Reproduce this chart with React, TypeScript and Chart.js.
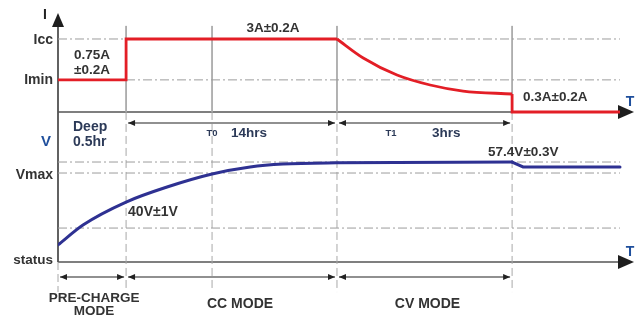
import React, { useEffect, useRef } from "react";
import { Chart, registerables } from "chart.js";

Chart.register(...registerables);

// ---------- Schematic time axis (0 = origin, 100 = arrow tip) ----------
const phaseEdges = [0, 11.8, 48.35, 78.7]; // start, CC start, CV start, CV end
const t0Mark = 26.7;
const traceEnd = 97.4;

// ---------- Charge current (schematic levels) ----------
const stepTime = [0, 11.8, 11.8, 48.35];
const stepCurrent = [1.32, 1.32, 3, 3];
const decayTime = [48.35, 52.9, 58.75, 64.5, 70.2, 78.7];
const decayCurrent = [3, 2.22, 1.52, 1.11, 0.86, 0.74];
const termTime = [78.7, 78.7, 97.4];
const termCurrent = [0.74, 0, 0];
const currentRefLevels = [3, 1.32]; // Icc, Imin

// ---------- Battery voltage (schematic levels) ----------
const chargeTime = [0, 4.33, 11.8, 18.9, 26.7, 33.3, 39, 48.35, 78.7];
const chargeVoltage = [11, 23.9, 38.7, 48.4, 56.8, 61.3, 63.2, 64, 64.5];
const floatTime = [78.7, 80.6, 97.4];
const floatVoltage = [64.5, 61.3, 61.3];
const voltageRefLevels = [64.5, 57.4, 21.9];

// vertical phase guides (in voltage-axis units)
const guideTop = 152.3;
const guideSplit = 96.8;
const guideBottom = -19.4;

const INK = "#333333";
const NAVY = "#2c3a58";
const AXIS_BLUE = "#1f4f9c";
const FONT = '"Liberation Sans", Arial, Helvetica, sans-serif';

const pts = (xs: number[], ys: number[]) => xs.map((x, i) => ({ x, y: ys[i] }));

function head(ctx: CanvasRenderingContext2D, tx: number, ty: number, dx: number, dy: number, len: number, half: number) {
  const bx = tx - dx * len;
  const by = ty - dy * len;
  ctx.beginPath();
  ctx.moveTo(tx, ty);
  ctx.lineTo(bx - dy * half, by + dx * half);
  ctx.lineTo(bx + dy * half, by - dx * half);
  ctx.closePath();
  ctx.fill();
}

const schematicPlugin = {
  id: "schematic",
  beforeDatasetsDraw(chart: any) {
    const { ctx, chartArea, scales } = chart;
    const xs = scales.x, yI = scales.yI, yV = scales.yV;
    const left = xs.getPixelForValue(0);
    const tip = xs.getPixelForValue(100) - 1;
    const iAxis = yI.getPixelForValue(0);
    const vAxis = yV.getPixelForValue(0);
    ctx.save();
    ctx.fillStyle = "#1e1e1e";
    // vertical axis
    ctx.strokeStyle = "#3a3a3a";
    ctx.lineWidth = 1.6;
    ctx.beginPath();
    ctx.moveTo(left, chartArea.top + 10);
    ctx.lineTo(left, vAxis);
    ctx.stroke();
    head(ctx, left, chartArea.top - 1, 0, -1, 14, 6);
    // horizontal axes
    ctx.strokeStyle = "#555555";
    ctx.lineWidth = 1.5;
    [iAxis, vAxis].forEach((y: number) => {
      ctx.beginPath();
      ctx.moveTo(left, y);
      ctx.lineTo(tip - 12, y);
      ctx.stroke();
      head(ctx, tip, y, 1, 0, 16, 7);
    });
    ctx.restore();
  },
  afterDatasetsDraw(chart: any) {
    const { ctx, chartArea, scales } = chart;
    const xs = scales.x, yI = scales.yI, yV = scales.yV;
    const px = (v: number) => xs.getPixelForValue(v);
    const left = px(0);
    const iAxis = yI.getPixelForValue(0);
    const vAxis = yV.getPixelForValue(0);
    ctx.save();

    // dimension arrows
    ctx.strokeStyle = "#222";
    ctx.fillStyle = "#222";
    ctx.lineWidth = 1.1;
    const dim = (x1: number, x2: number, y: number) => {
      const a = px(x1) + 2;
      const b = px(x2) - 2;
      ctx.beginPath();
      ctx.moveTo(a, y);
      ctx.lineTo(b, y);
      ctx.stroke();
      head(ctx, a, y, -1, 0, 7, 3);
      head(ctx, b, y, 1, 0, 7, 3);
    };
    const upperY = iAxis + 11;
    const lowerY = vAxis + 15;
    dim(phaseEdges[1], phaseEdges[2], upperY);
    dim(phaseEdges[2], phaseEdges[3], upperY);
    dim(phaseEdges[0], phaseEdges[1], lowerY);
    dim(phaseEdges[1], phaseEdges[2], lowerY);
    dim(phaseEdges[2], phaseEdges[3], lowerY);

    const t = (s: string, x: number, y: number, size: number, color: string, align: CanvasTextAlign = "left") => {
      ctx.font = `bold ${size}px ${FONT}`;
      ctx.fillStyle = color;
      ctx.textAlign = align;
      ctx.textBaseline = "middle";
      ctx.fillText(s, x, y);
    };

    // axis labels
    t("I", left - 13, chartArea.top + 1, 14, "#222", "center");
    t("Icc", left - 5, yI.getPixelForValue(currentRefLevels[0]) + 1, 14, INK, "right");
    t("Imin", left - 5, yI.getPixelForValue(currentRefLevels[1]), 14, INK, "right");
    t("T", 630, iAxis - 10, 14, AXIS_BLUE, "center");
    t("V", left - 12, iAxis + 30, 15, AXIS_BLUE, "center");
    t("Vmax", left - 5, yV.getPixelForValue(voltageRefLevels[1]) + 2, 14, INK, "right");
    t("status", left - 5, vAxis - 2, 13.5, INK, "right");
    t("T", 630, vAxis - 10, 14, AXIS_BLUE, "center");

    // current annotations
    const icc = yI.getPixelForValue(currentRefLevels[0]);
    t("0.75A", (px(0) + px(phaseEdges[1])) / 2, icc + 16, 13.5, INK, "center");
    t("±0.2A", (px(0) + px(phaseEdges[1])) / 2, icc + 31, 13.5, INK, "center");
    t("3A±0.2A", px(37.26), icc - 11, 13.5, INK, "center");
    t("0.3A±0.2A", px(phaseEdges[3]) + 11, iAxis - 15, 13.5, INK, "left");

    // time annotations
    t("Deep", left + 15, iAxis + 15, 14, NAVY, "left");
    t("0.5hr", left + 15, iAxis + 30, 14, NAVY, "left");
    t("T0", px(t0Mark), iAxis + 21, 9.5, NAVY, "center");
    t("14hrs", px(t0Mark) + 19, iAxis + 21, 13.5, NAVY, "left");
    t("T1", px(phaseEdges[2]) + 54, iAxis + 21, 9.5, NAVY, "center");
    t("3hrs", px(phaseEdges[2]) + 95, iAxis + 21, 13.5, NAVY, "left");

    // voltage annotations
    t("57.4V±0.3V", px(phaseEdges[3]) - 24, yV.getPixelForValue(voltageRefLevels[0]) - 10, 13.5, INK, "left");
    t("40V±1V", px(phaseEdges[1]) + 2, yV.getPixelForValue(chargeVoltage[2]) + 10, 14, INK, "left");

    // mode labels
    const preC = (px(phaseEdges[0]) + px(phaseEdges[1])) / 2 + 2;
    t("PRE-CHARGE", preC, vAxis + 36, 13.5, INK, "center");
    t("MODE", preC, vAxis + 49, 13.5, INK, "center");
    t("CC MODE", px(t0Mark) + 28, vAxis + 42, 14, INK, "center");
    t("CV MODE", (px(phaseEdges[2]) + px(phaseEdges[3])) / 2 + 3, vAxis + 42, 14, INK, "center");

    ctx.restore();
  },
};

export default function App() {
  const ref = useRef<HTMLCanvasElement | null>(null);

  useEffect(() => {
    if (!ref.current) return;
    const RED = "#e31e26";
    const BLUE = "#2e3192";
    const GRID = "#9c9c9c";
    const base = { showLine: true, pointRadius: 0, fill: false, tension: 0 };

    const datasets: any[] = [
      { ...base, data: pts(stepTime, stepCurrent), yAxisID: "yI", borderColor: RED, borderWidth: 2.8, borderJoinStyle: "miter" },
      { ...base, data: pts(decayTime, decayCurrent), yAxisID: "yI", borderColor: RED, borderWidth: 2.8, cubicInterpolationMode: "monotone", tension: 0.4 },
      { ...base, data: pts(termTime, termCurrent), yAxisID: "yI", borderColor: RED, borderWidth: 2.8, borderJoinStyle: "miter" },
      { ...base, data: pts(chargeTime, chargeVoltage), yAxisID: "yV", borderColor: BLUE, borderWidth: 3, cubicInterpolationMode: "monotone", tension: 0.4, borderCapStyle: "round" },
      { ...base, data: pts(floatTime, floatVoltage), yAxisID: "yV", borderColor: BLUE, borderWidth: 3, borderCapStyle: "round" },
    ];

    currentRefLevels.forEach((lvl) =>
      datasets.push({ ...base, data: [{ x: 0, y: lvl }, { x: traceEnd, y: lvl }], yAxisID: "yI", borderColor: GRID, borderWidth: 1, borderDash: [9, 3, 2, 3] })
    );
    voltageRefLevels.forEach((lvl) =>
      datasets.push({ ...base, data: [{ x: 0, y: lvl }, { x: traceEnd, y: lvl }], yAxisID: "yV", borderColor: GRID, borderWidth: 1, borderDash: [9, 3, 2, 3] })
    );
    [phaseEdges[1], t0Mark, phaseEdges[2], phaseEdges[3]].forEach((g) => {
      datasets.push({ ...base, data: [{ x: g, y: guideTop }, { x: g, y: guideSplit }], yAxisID: "yV", borderColor: "#a8a8a8", borderWidth: 1, clip: false });
      datasets.push({ ...base, data: [{ x: g, y: guideSplit }, { x: g, y: guideBottom }], yAxisID: "yV", borderColor: "#a8a8a8", borderWidth: 1, borderDash: [8, 4], clip: false });
    });
    datasets.push({ ...base, data: [{ x: 0, y: 0 }, { x: 0, y: guideBottom }], yAxisID: "yV", borderColor: "#a8a8a8", borderWidth: 1, borderDash: [8, 4], clip: false });

    const chart = new Chart(ref.current, {
      type: "scatter",
      data: { datasets },
      options: {
        animation: false,
        responsive: true,
        maintainAspectRatio: false,
        events: [],
        layout: { padding: { left: 58, right: 5, top: 14, bottom: 56 } },
        plugins: { legend: { display: false }, tooltip: { enabled: false } },
        scales: {
          x: { type: "linear", min: 0, max: 100, display: false },
          yI: { type: "linear", min: -6.164, max: 4.027, display: false },
          yV: { type: "linear", min: 0, max: 160, display: false },
        },
      },
      plugins: [schematicPlugin],
    } as any);
    return () => chart.destroy();
  }, []);

  return (
    <div style={{ position: "absolute", left: 0, top: 0, width: 640, height: 318, background: "#fff" }}>
      <canvas ref={ref} />
    </div>
  );
}
